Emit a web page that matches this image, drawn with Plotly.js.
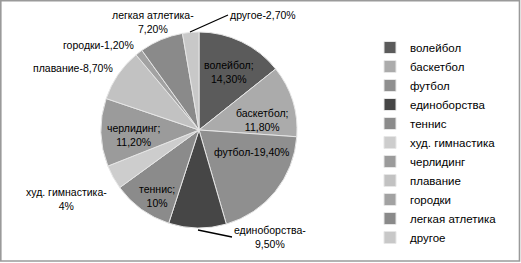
<!DOCTYPE html>
<html>
<head>
<meta charset="utf-8">
<script src="https://cdn.plot.ly/plotly-3.0.1.min.js"></script>
<style>html,body{margin:0;padding:0;background:#fff;}#chart{width:521px;height:263px;}</style>
</head>
<body>
<div id="chart"></div>
<script>
const categories = ["волейбол","баскетбол","футбол","единоборства","теннис","худ. гимнастика","черлидинг","плавание","городки","легкая атлетика","другое"];
const values = [14.3, 11.8, 19.4, 9.5, 10, 4, 11.2, 8.7, 1.2, 7.2, 2.7];
const labelTexts = ["волейбол;<br>14,30%","баскетбол;<br>11,80%","футбол-19,40%","единоборства-<br>9,50%","теннис;<br>10%","худ. гимнастика-<br>4%","черлидинг;<br>11,20%","плавание-8,70%","городки-1,20%","легкая атлетика-<br>7,20%","другое-2,70%"];
const colors = ["#5b5b5b","#ababab","#8f8f8f","#464646","#8b8b8b","#cdcdcd","#9b9b9b","#c2c2c2","#a2a2a2","#8a8a8a","#c8c8c8"];

const W = 521, H = 263;
const cx = 199, cy = 130, r = 98;
const px = x => x / W, py = y => 1 - y / H;

// label anchor positions in pixels (text placement only)
const labelPos = [[229,72],[262,120],[251,152],[272,243],[157,196],[66,199],[133,135],[73,68],[98,45],[153,22],[260,15]];
const arrows = {3: [198,230], 10: [190,32]};

const annotations = labelTexts.map((t, i) => {
  const a = {
    text: t, xref: 'paper', yref: 'paper',
    x: px(labelPos[i][0]), y: py(labelPos[i][1]),
    xanchor: 'center', yanchor: 'middle', showarrow: false,
    font: {family: 'Liberation Sans, Arial, sans-serif', size: 10.5, color: '#000'}
  };
  if (arrows[i]) {
    a.showarrow = true; a.arrowhead = 0; a.arrowwidth = 1.3; a.arrowcolor = '#000';
    a.axref = 'pixel'; a.ayref = 'pixel';
    a.x = px(arrows[i][0]); a.y = py(arrows[i][1]);
    a.ax = labelPos[i][0] - arrows[i][0] - (i === 10 ? 32 : 40);
    a.ay = labelPos[i][1] - arrows[i][1] - (i === 3 ? 6 : 0);
    a.xanchor = 'left';
    a.standoff = 0; a.startstandoff = 0;
  }
  return a;
});

const trace = {
  type: 'pie', labels: categories, values: values, sort: false, direction: 'clockwise', rotation: 0,
  textinfo: 'none', hoverinfo: 'label+percent',
  marker: {colors: colors, line: {color: '#e6e6e6', width: 1}},
  domain: {x: [px(cx - r), px(cx + r)], y: [py(cy + r), py(cy - r)]}
};

const layout = {
  width: W, height: H, margin: {l: 0, r: 0, t: 0, b: 0},
  paper_bgcolor: '#fff', showlegend: true,
  legend: {x: px(370), y: py(33), xanchor: 'left', yanchor: 'top',
    font: {family: 'Liberation Sans, Arial, sans-serif', size: 11.5, color: '#000'},
    traceorder: 'normal', itemwidth: 30},
  annotations: annotations,
  shapes: [{type: 'rect', xref: 'paper', yref: 'paper', x0: px(0.8), x1: px(519.5), y0: py(261), y1: py(0.8),
    line: {color: '#9a9a9a', width: 1.6}}]
};

Plotly.newPlot('chart', [trace], layout, {displayModeBar: false, staticPlot: true});
</script>
</body>
</html>
